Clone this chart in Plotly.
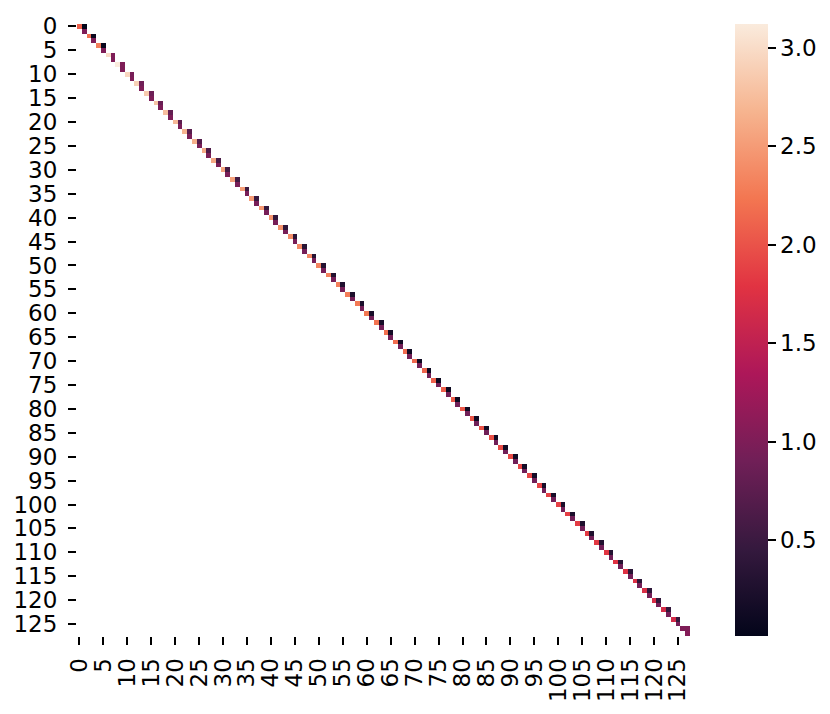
import numpy as np
import plotly.graph_objects as go

N = 128
# value at (2k, 2k)
diag_a = [2.1, 2.2, 2.3, 3.0, 3.12, 2.95, 2.9, 2.85,
          2.8, 2.76, 2.72, 2.68, 2.65, 2.62, 2.6, 2.57,
          2.55, 2.52, 2.5, 2.48, 2.46, 2.44, 2.41, 2.38,
          2.36, 2.34, 2.32, 2.3, 2.28, 2.26, 2.24, 2.22,
          2.2, 2.18, 2.16, 2.14, 2.12, 2.1, 2.08, 2.06,
          2.04, 2.02, 2.0, 1.98, 1.96, 1.95, 1.93, 1.92,
          1.9, 1.89, 1.88, 1.86, 1.85, 1.83, 1.82, 1.8,
          1.78, 1.76, 1.74, 1.72, 1.7, 1.68, 1.66, 1.0]
# value at (2k, 2k+1)
offdiag_b = [0.013, 0.08, 0.05, 1.0, 1.0, 0.95, 0.9, 0.88,
             0.85, 0.8, 0.76, 0.72, 0.68, 0.64, 0.6, 0.57,
             0.54, 0.5, 0.47, 0.44, 0.42, 0.4, 0.37, 0.34,
             0.32, 0.3, 0.28, 0.26, 0.24, 0.22, 0.2, 0.18,
             0.16, 0.14, 0.12, 0.1, 0.09, 0.08, 0.08, 0.08,
             0.1, 0.11, 0.12, 0.13, 0.14, 0.15, 0.16, 0.17,
             0.18, 0.19, 0.2, 0.22, 0.24, 0.26, 0.28, 0.3,
             0.32, 0.34, 0.36, 0.38, 0.4, 0.42, 0.45, 1.0]
# value at (2k+1, 2k+1)
diag_c = [1.0, 1.0, 1.0, 1.0, 1.0, 1.0, 1.0, 0.99,
          0.99, 0.99, 0.98, 0.98, 0.98, 0.97, 0.97, 0.97,
          0.96, 0.96, 0.96, 0.95, 0.95, 0.95, 0.95, 0.94,
          0.94, 0.94, 0.93, 0.93, 0.93, 0.93, 0.92, 0.92,
          0.92, 0.92, 0.92, 0.91, 0.91, 0.91, 0.91, 0.91,
          0.9, 0.9, 0.9, 0.9, 0.9, 0.9, 0.9, 0.9,
          0.9, 0.9, 0.9, 0.9, 0.9, 0.91, 0.91, 0.91,
          0.91, 0.92, 0.92, 0.92, 0.93, 0.93, 0.94, 1.05]

tick_vals = list(range(0, N, 5))
cbar_ticks = [0.5, 1.0, 1.5, 2.0, 2.5, 3.0]

z = np.full((N, N), np.nan)
for k in range(N // 2):
    z[2 * k, 2 * k] = diag_a[k]
    z[2 * k, 2 * k + 1] = offdiag_b[k]
    z[2 * k + 1, 2 * k + 1] = diag_c[k]

rocket = [
    [0.0, "#03051a"],
    [1 / 7, "#35193e"],
    [2 / 7, "#701f57"],
    [3 / 7, "#ad1759"],
    [4 / 7, "#e13342"],
    [5 / 7, "#f37651"],
    [6 / 7, "#f6b48f"],
    [1.0, "#faebdd"],
]

zmin = float(np.nanmin(z))
zmax = float(np.nanmax(z))

FS = 23
font = dict(family="DejaVu Sans", size=FS, color="black")

fig = go.Figure(go.Heatmap(
    z=z,
    x=list(range(N)),
    y=list(range(N)),
    colorscale=rocket,
    zmin=zmin,
    zmax=zmax,
    hoverongaps=False,
    colorbar=dict(
        x=1.073, xanchor="left", xref="paper",
        y=0.5, yanchor="middle", len=1.0, lenmode="fraction", ypad=0, xpad=0,
        thickness=33, outlinewidth=0,
        tickvals=cbar_ticks, ticktext=[f"{v:.1f}" for v in cbar_ticks],
        ticks="outside", ticklen=8, tickwidth=2, tickcolor="black",
        tickfont=font,
    ),
))

fig.update_layout(
    width=822, height=706,
    margin=dict(l=69, r=140, t=16, b=78, autoexpand=False),
    plot_bgcolor="white", paper_bgcolor="white",
    font=font,
    xaxis=dict(
        range=[-0.5, N - 0.5], tickvals=tick_vals, ticktext=[str(v) for v in tick_vals],
        tickangle=-90, ticks="outside", ticklen=8, tickwidth=2, tickcolor="black",
        showgrid=False, zeroline=False, showline=False, tickfont=font,
        automargin=False, ticklabelstandoff=4,
    ),
    yaxis=dict(
        range=[N - 0.5, -0.5], tickvals=tick_vals, ticktext=[str(v) for v in tick_vals],
        ticks="outside", ticklen=8, tickwidth=2, tickcolor="black",
        showgrid=False, zeroline=False, showline=False, tickfont=font,
        automargin=False, ticklabelstandoff=6,
    ),
)

fig.write_html("out.html")
